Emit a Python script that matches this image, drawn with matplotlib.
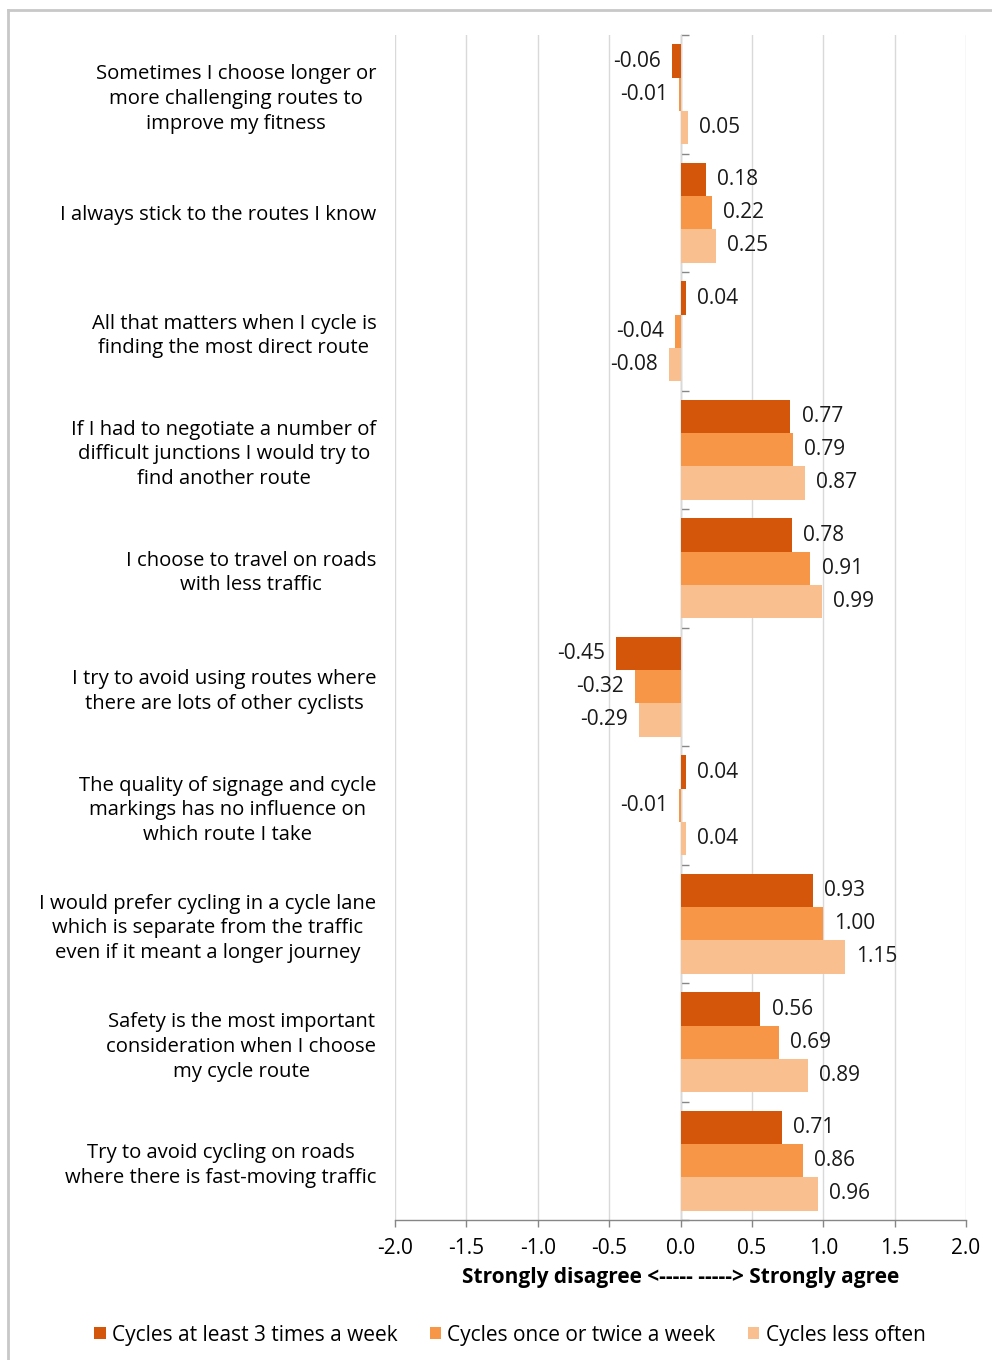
import matplotlib
matplotlib.use("Agg")
import matplotlib.pyplot as plt
import numpy as np
from matplotlib.lines import Line2D

categories = [
    "Sometimes I choose longer or\nmore challenging routes to\nimprove my fitness",
    "I always stick to the routes I know",
    "All that matters when I cycle is\nfinding the most direct route",
    "If I had to negotiate a number of\ndifficult junctions I would try to\nfind another route",
    "I choose to travel on roads\nwith less traffic",
    "I try to avoid using routes where\nthere are lots of other cyclists",
    "The quality of signage and cycle\nmarkings has no influence on\nwhich route I take",
    "I would prefer cycling in a cycle lane\nwhich is separate from the traffic\neven if it meant a longer journey",
    "Safety is the most important\nconsideration when I choose\nmy cycle route",
    "Try to avoid cycling on roads\nwhere there is fast-moving traffic",
]
freq_high = [-0.06, 0.18, 0.04, 0.77, 0.78, -0.45, 0.04, 0.93, 0.56, 0.71]
freq_mid = [-0.01, 0.22, -0.04, 0.79, 0.91, -0.32, -0.01, 1.00, 0.69, 0.86]
freq_low = [0.05, 0.25, -0.08, 0.87, 0.99, -0.29, 0.04, 1.15, 0.89, 0.96]
series_names = ["Cycles at least 3 times a week", "Cycles once or twice a week", "Cycles less often"]
xticks = [-2.0, -1.5, -1.0, -0.5, 0.0, 0.5, 1.0, 1.5, 2.0]

colors = ["#D4560B", "#F79646", "#FABF8F"]
plt.rcParams['font.family'] = ['Open Sans', 'DejaVu Sans']
fs_cat = 14.6
fs = 15.0

fig = plt.figure(figsize=(9.92, 13.6), dpi=100)
ax = fig.add_axes([395/992, 1 - 1220/1360, (966-395)/992, (1220-35)/1360])

y = np.arange(len(categories))
h = 0.28
for k, (vals, c, name) in enumerate(zip([freq_high, freq_mid, freq_low], colors, series_names)):
    bars = ax.barh(y + (k - 1) * h, vals, height=h, color=c, label=name, zorder=3)
    ax.bar_label(bars, labels=[f"{v:.2f}" for v in vals], padding=8, fontsize=fs, color="#1a1a1a")

ax.set_ylim(len(categories) - 0.5, -0.5)
ax.set_xlim(-2.0, 2.0)
ax.set_xticks(xticks)
ax.set_xticklabels([f"{t:.1f}" for t in xticks], fontsize=fs)
ax.set_yticks(y)
ax.set_yticklabels(categories, fontsize=fs_cat, multialignment='center', linespacing=1.3)
ax.tick_params(axis='y', length=0, pad=13.5)
ax.tick_params(axis='x', length=5, color="#868686", width=1, pad=8)
ax.grid(axis='x', color="#D9D9D9", lw=1, zorder=0)
for s in ['left', 'right', 'top']:
    ax.spines[s].set_visible(False)
ax.spines['bottom'].set_color("#868686")
ax.spines['bottom'].set_linewidth(1)
ax.set_xlabel("Strongly disagree <----- -----> Strongly agree", fontsize=fs, fontweight='bold', labelpad=6)

# vertical axis at zero
sec = ax.secondary_yaxis(0.5)
sec.set_yticks(np.arange(len(categories) + 1) - 0.5)
sec.set_yticklabels([])
sec.tick_params(length=6, color="#868686", width=1)
sec.spines['left'].set_color("#868686")
sec.spines['left'].set_linewidth(1)

fig.legend(loc='center', bbox_to_anchor=(0.514, 1 - 1335/1360), ncol=3, frameon=False,
           fontsize=fs, handlelength=0.55, handleheight=0.55, handletextpad=0.3, columnspacing=1.55)

# outer frame
fig.add_artist(Line2D([8/992, 8/992], [0, 1 - 10/1360], transform=fig.transFigure, color="#C8C8C8", lw=2))
fig.add_artist(Line2D([8/992, 1], [1 - 10/1360, 1 - 10/1360], transform=fig.transFigure, color="#C8C8C8", lw=2))

fig.savefig("out.png", dpi=100)
